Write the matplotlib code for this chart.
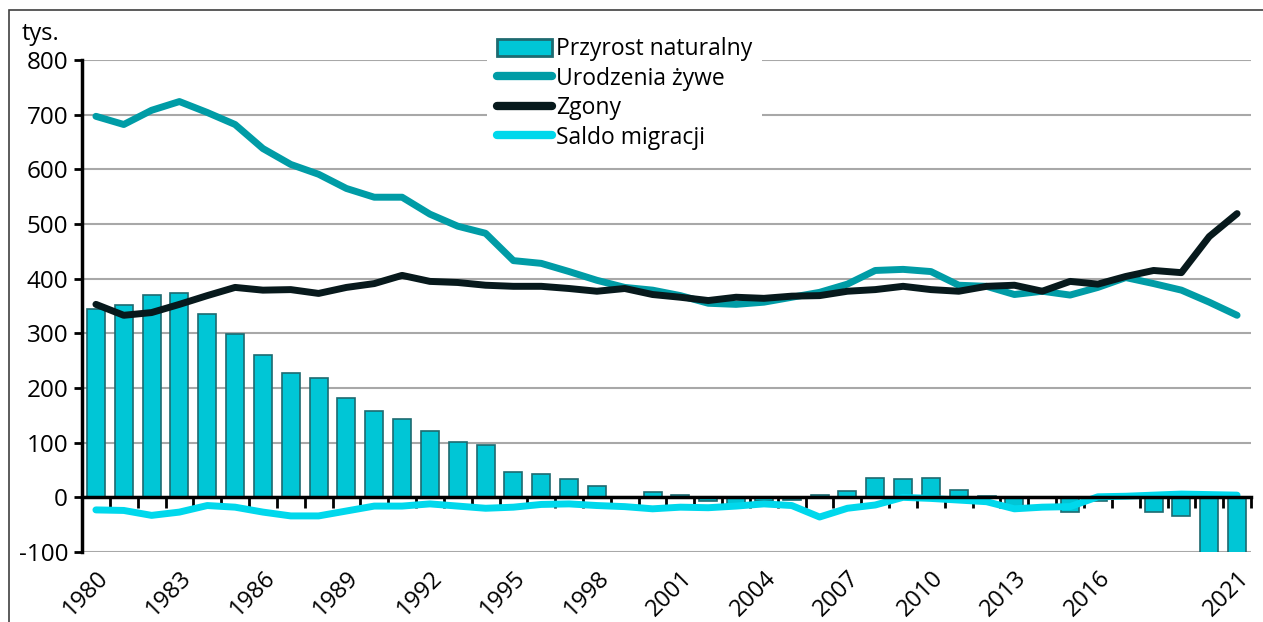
import matplotlib
matplotlib.use("Agg")
import matplotlib.pyplot as plt
from matplotlib.patches import Rectangle, Patch
from matplotlib.lines import Line2D
import numpy as np

# DATA (tys.)
years = list(range(1980, 2022))
przyrost = [345, 352, 370, 373, 336, 298, 260, 228, 218, 182,
            158, 143, 122, 102, 96, 47, 42, 33, 20, 1,
            10, 5, -6, -14, -7, -4, 4, 11, 35, 33,
            35, 13, 2, -18, -1, -26, -6, -1, -26, -35,
            -122, -188]
urodzenia = [697, 682, 708, 724, 704, 682, 638, 609, 591, 565,
             549, 549, 518, 496, 483, 433, 428, 413, 397, 384,
             379, 369, 355, 353, 357, 366, 375, 390, 415, 417,
             413, 388, 386, 371, 377, 370, 384, 402, 391, 379,
             357, 333]
zgony = [353, 333, 338, 353, 369, 384, 379, 380, 373, 384,
         391, 406, 395, 393, 388, 386, 386, 382, 377, 382,
         371, 366, 360, 366, 364, 368, 369, 377, 380, 386,
         380, 377, 386, 388, 377, 395, 390, 404, 415, 411,
         477, 519]
migracja = [-23, -24, -33, -27, -15, -18, -27, -34, -34, -25,
            -16, -16, -12, -16, -20, -18, -13, -12, -15, -17,
            -21, -18, -19, -16, -12, -15, -36, -20, -14, 0,
            -2, -5, -8, -21, -18, -17, 1, 2, 4, 6,
            5, 4]
label_years = [1980, 1983, 1986, 1989, 1992, 1995, 1998, 2001, 2004,
               2007, 2010, 2013, 2016, 2021]

# COLOURS
BAR_FACE = "#00C6D6"
BAR_EDGE = "#1E6A70"
C_BIRTHS = "#009CA6"
C_DEATHS = "#07191C"
C_MIGR = "#00D8EC"

plt.rcParams["font.family"] = ["Open Sans", "DejaVu Sans"]
plt.rcParams["axes.unicode_minus"] = False

fig = plt.figure(figsize=(12.63, 6.22), dpi=100)
ax = fig.add_axes([82 / 1263, 1 - 552 / 622, (1251 - 82) / 1263, (552 - 60) / 622])

x = np.arange(len(years))
ax.bar(x, przyrost, width=0.65, color=BAR_FACE, edgecolor=BAR_EDGE,
       linewidth=1.2, zorder=2)
ax.plot(x, urodzenia, color=C_BIRTHS, lw=5, solid_capstyle="round",
        solid_joinstyle="round", zorder=3)
ax.plot(x, zgony, color=C_DEATHS, lw=5, solid_capstyle="round",
        solid_joinstyle="round", zorder=4)
ax.plot(x, migracja, color=C_MIGR, lw=5, solid_capstyle="round",
        solid_joinstyle="round", zorder=5)

ax.set_xlim(-0.5, len(years) - 0.5)
ax.set_ylim(-100, 800)
ax.set_yticks(range(-100, 801, 100))
ax.yaxis.grid(True, color="#A8A8A8", lw=1.5, zorder=0)
ax.set_axisbelow(True)
ax.tick_params(axis="y", direction="out", length=6, width=2,
               labelsize=17.5, pad=4)

for s in ("top", "right"):
    ax.spines[s].set_visible(False)
ax.spines["left"].set_linewidth(2.5)
ax.spines["bottom"].set_position(("data", 0))
ax.spines["bottom"].set_linewidth(2.5)
ax.spines["bottom"].set_zorder(6)
ax.set_xticks(np.arange(len(years) + 1) - 0.5)
ax.tick_params(axis="x", direction="out", length=8, width=2,
               labelbottom=False)

sec = ax.secondary_xaxis("bottom")
sec.set_xticks([years.index(y) for y in label_years])
sec.set_xticklabels([str(y) for y in label_years], rotation=45,
                    ha="right", rotation_mode="anchor", fontsize=17)
sec.tick_params(length=0, pad=10)
sec.spines["bottom"].set_visible(False)

fig.text(22 / 1263, 1 - 40 / 622, "tys.", fontsize=17)

handles = [
    Patch(facecolor=BAR_FACE, edgecolor=BAR_EDGE, linewidth=2),
    Line2D([], [], color=C_BIRTHS, lw=6, solid_capstyle="round"),
    Line2D([], [], color=C_DEATHS, lw=6, solid_capstyle="round"),
    Line2D([], [], color=C_MIGR, lw=6, solid_capstyle="round"),
]
labels = ["Przyrost naturalny", "Urodzenia żywe", "Zgony", "Saldo migracji"]
leg = fig.legend(handles, labels, loc="upper left",
                 bbox_to_anchor=(487 / 1263, 1 - 27 / 622),
                 fontsize=16.5, frameon=True, facecolor="white",
                 edgecolor="none", framealpha=1, fancybox=False,
                 handlelength=2.4, handleheight=0.8, handletextpad=0.15,
                 labelspacing=0.24, borderpad=0.45, borderaxespad=0)
leg.set_zorder(10)

# outer frame of the chart
fig.patches.append(Rectangle((9 / 1263, -0.5), 2, 0.5 + 1 - 10 / 622,
                             transform=fig.transFigure, fill=False,
                             edgecolor="#404040", lw=1.2))

fig.savefig("out.png", dpi=100)
